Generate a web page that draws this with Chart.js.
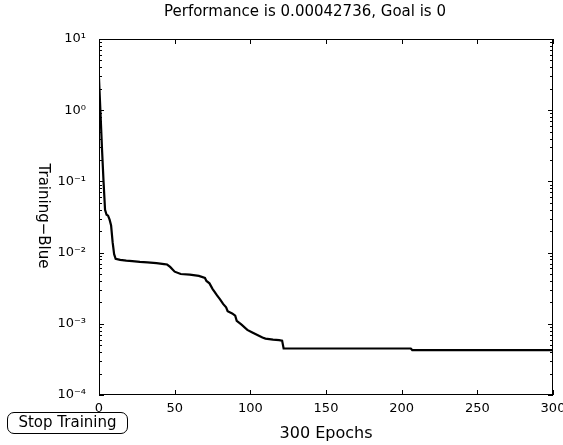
<!DOCTYPE html>
<html><head><meta charset="utf-8">
<script src="https://cdn.jsdelivr.net/npm/chart.js@4"></script>
<style>
html,body{margin:0;padding:0;background:#fff;}
#wrap{position:relative;width:563px;height:445px;overflow:hidden;}
canvas{display:block;}
#btn{position:absolute;left:7px;top:412px;width:121px;height:22px;border:1.5px solid #000;border-radius:7px;box-sizing:border-box;font:15px "DejaVu Sans",sans-serif;line-height:19px;text-align:center;color:#000;background:#fff;}
</style></head>
<body>
<div id="wrap"><canvas id="c" width="563" height="445"></canvas><div id="btn">Stop Training</div></div>
<script>
const epochs = [0,1,2,3,4,5,6,7,8,9,10,11,14,18,22,27,32,38,43,45,47,50,54,60,66,70,71,73,75,78,80,82,84,85,88,90,91,94,98,101,105,108,110,115,119,121,122,150,180,206,207,250,300];
const performance = [2.8,0.9,0.28,0.1,0.04,0.034,0.033,0.029,0.024,0.014,0.0095,0.0082,0.0079,0.0077,0.0076,0.0074,0.0073,0.0071,0.0069,0.0068,0.0063,0.0054,0.0050,0.0049,0.0047,0.0044,0.0040,0.0037,0.0031,0.0025,0.0022,0.0019,0.0017,0.0015,0.0014,0.0013,0.0011,0.00098,0.00082,0.00076,0.00069,0.00064,0.00062,0.00060,0.00059,0.00058,0.00045,0.00045,0.00045,0.00045,0.000427,0.000427,0.000427];
const xTicks = [0,50,100,150,200,250,300];
const yTickValues = [1e-4,1e-3,1e-2,1e-1,1,10];
const yTickLabels = ['10\u207B\u2074','10\u207B\u00B3','10\u207B\u00B2','10\u207B\u00B9','10\u2070','10\u00B9'];
const titleText = 'Performance is 0.00042736, Goal is 0';
const yTitleText = 'Training\u2212Blue';
const xTitleText = '300 Epochs';

const FONT = '"DejaVu Sans", sans-serif';

const framePlugin = {
  id: 'frame',
  afterDraw(chart) {
    const {ctx, chartArea: a, scales} = chart;
    const xs = scales.x, ys = scales.y;
    ctx.save();
    ctx.strokeStyle = '#000';
    ctx.lineWidth = 1;
    ctx.strokeRect(a.left + 0.5, a.top + 0.5, a.right - a.left - 1, a.bottom - a.top - 1);
    ctx.beginPath();
    xTicks.forEach(v => {
      const px = Math.round(xs.getPixelForValue(v)) + 0.5;
      ctx.moveTo(px, a.bottom); ctx.lineTo(px, a.bottom - 5);
      ctx.moveTo(px, a.top); ctx.lineTo(px, a.top + 5);
    });
    for (let k = -4; k <= 1; k++) {
      for (let m = 1; m <= 9; m++) {
        const v = m * Math.pow(10, k);
        if (v > 10 + 1e-9) continue;
        const py = Math.round(ys.getPixelForValue(v)) + 0.5;
        const len = m === 1 ? 5 : 3;
        ctx.moveTo(a.left, py); ctx.lineTo(a.left + len, py);
        ctx.moveTo(a.right, py); ctx.lineTo(a.right - len, py);
      }
    }
    ctx.stroke();
    ctx.fillStyle = '#000';
    ctx.font = '15px ' + FONT;
    ctx.textAlign = 'center';
    ctx.textBaseline = 'middle';
    ctx.fillText(titleText, 305, 12);
    ctx.translate(43, 216);
    ctx.rotate(Math.PI / 2);
    ctx.fillText(yTitleText, 0, 0);
    ctx.restore();
  }
};

new Chart(document.getElementById('c'), {
  type: 'line',
  data: {
    datasets: [{
      data: epochs.map((e, i) => ({x: e, y: performance[i]})),
      borderColor: '#000',
      borderWidth: 2.2,
      pointRadius: 0,
      tension: 0,
      fill: false
    }]
  },
  options: {
    responsive: false,
    animation: false,
    layout: {padding: {top: 39, left: 0, right: 10, bottom: 0}},
    plugins: {legend: {display: false}, title: {display: false}, tooltip: {enabled: false}},
    scales: {
      x: {
        type: 'linear', min: 0, max: 300,
        grid: {display: false, drawTicks: false},
        border: {display: false},
        afterBuildTicks(s) { s.ticks = xTicks.map(v => ({value: v})); },
        ticks: {color: '#000', font: {family: FONT, size: 13}, padding: 6, maxRotation: 0, autoSkip: false},
        title: {display: true, text: xTitleText, color: '#000', font: {family: FONT, size: 16}, padding: {top: 3, bottom: 2}},
        afterFit(s) { s.height = 50; s.paddingLeft = 0; s.paddingRight = 0; }
      },
      y: {
        type: 'logarithmic', min: 1e-4, max: 10,
        grid: {display: false, drawTicks: false},
        border: {display: false},
        afterBuildTicks(s) { s.ticks = yTickValues.map(v => ({value: v})); },
        ticks: {color: '#000', font: {family: FONT, size: 13}, padding: 13, autoSkip: false,
          callback(v) { const i = yTickValues.findIndex(t => Math.abs(Math.log10(t) - Math.log10(v)) < 1e-6); return i >= 0 ? yTickLabels[i] : ''; }},
        afterFit(s) { s.width = 99; s.paddingTop = 0; s.paddingBottom = 0; }
      }
    }
  },
  plugins: [framePlugin]
});
</script>
</body></html>
